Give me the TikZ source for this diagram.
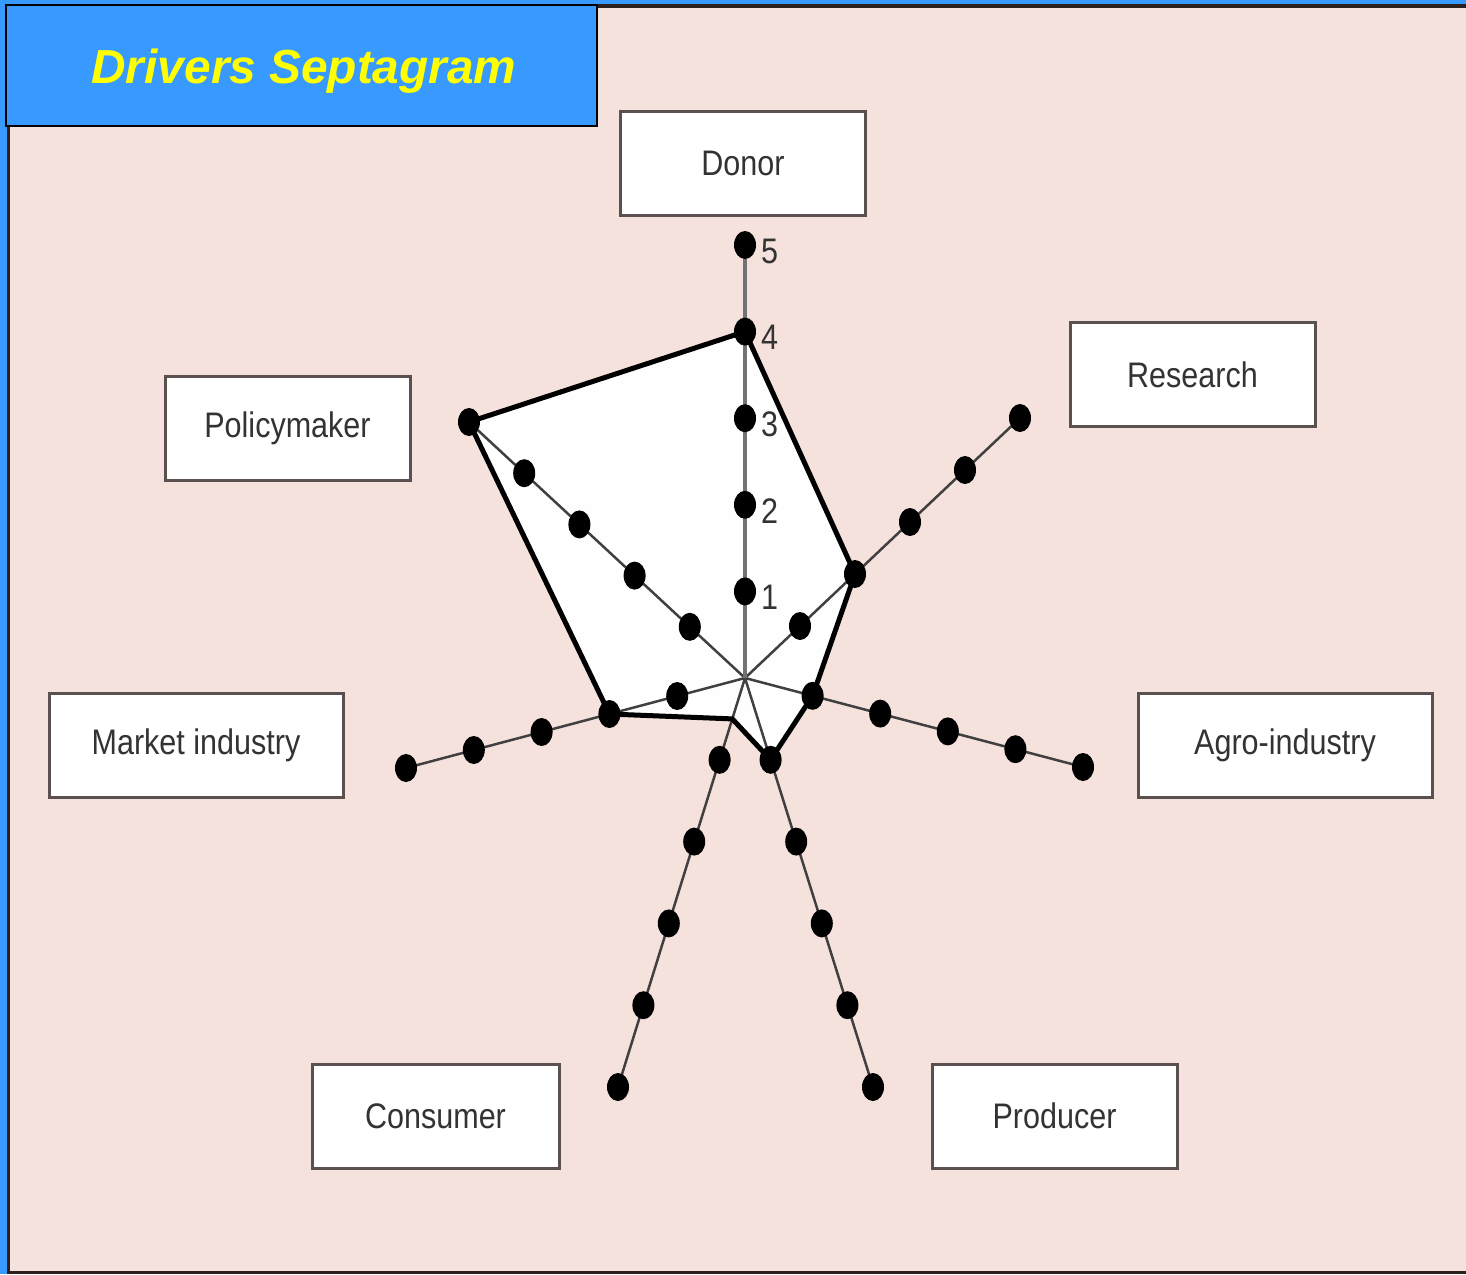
\documentclass[tikz,border=0pt]{standalone}
\usepackage{fontspec}
\usetikzlibrary{calc,shapes.geometric}
\newfontfamily\titlefont{Liberation Sans}
\newfontfamily\lblfont[FakeStretch=0.86]{Liberation Sans}
\definecolor{bgpink}{HTML}{F6E2DD}
\definecolor{barblue}{HTML}{3899FF}
\definecolor{edgedark}{HTML}{2A1F1C}
\definecolor{boxedge}{HTML}{5A5050}
\definecolor{txt}{HTML}{333333}
\definecolor{titleyellow}{HTML}{FFFF00}

\begin{document}
\begin{tikzpicture}[x=1pt,y=-1pt,
  labelbox/.style={draw=boxedge, line width=3pt, fill=white, minimum width=245pt,
    minimum height=104pt, inner sep=0pt, text=txt,
    font=\lblfont\fontsize{35.5}{40}\selectfont},
  dot/.style={ellipse, fill=black, minimum width=22pt, minimum height=28pt, inner sep=0pt},
  spoke/.style={draw=black!75, line width=2.5pt},
  mainspoke/.style={draw=black!55, line width=3.5pt},
  score/.style={draw=black, line width=5pt, line join=miter},
  tick/.style={font=\lblfont\fontsize{35.5}{40}\selectfont, text=txt, anchor=west, inner sep=0pt}]

\useasboundingbox (0,0) rectangle (1466,1274);

% page background and frame edges
\fill[bgpink] (0,0) rectangle (1466,1274);
\fill[barblue] (0,0) rectangle (7,1274);
\fill[barblue] (0,0) rectangle (1466,4);
\fill[edgedark] (7,4) rectangle (10,1274);
\fill[edgedark] (7,4) rectangle (1466,8);
\fill[edgedark] (7,1271) rectangle (1466,1274);

% title banner
\node[fill=barblue, draw=black, line width=2.5pt, minimum width=591pt, minimum height=121pt,
  inner sep=0pt] (title) at (301.5,65.5) {};
\node[anchor=base, inner sep=0pt, text=titleyellow,
  font=\titlefont\bfseries\itshape\fontsize{47.8}{52}\selectfont]
  (titletext) at (304,83) {Drivers Septagram};

% centre of the septagram and the tips of the seven axes (score 5)
\coordinate (C) at (745,678);
\coordinate (E-don) at (745,245);
\coordinate (E-res) at (1020,418);
\coordinate (E-agr) at (1083,767);
\coordinate (E-pro) at (873,1087);
\coordinate (E-con) at (618,1087);
\coordinate (E-mar) at (406,768);
\coordinate (E-pol) at (469,422);

% score positions 1..5 on every axis
\foreach \ax in {don,res,agr,pro,con,mar,pol}{
  \foreach \i [evaluate=\i as \f using \i/5] in {1,...,5}{
    \coordinate (\ax-\i) at ($(C)!\f!(E-\ax)$);
  }
}
\coordinate (con-half) at ($(C)!0.1!(E-con)$);

% scored area
\fill[white!98!bgpink] (don-4) -- (res-2) -- (agr-1) -- (pro-1) -- (con-half)
  -- (mar-2) -- (pol-5) -- cycle;

% axes
\foreach \ax in {res,agr,pro,con,mar,pol}{
  \draw[spoke] (C) -- (\ax-5);
}
\draw[mainspoke] (C) -- (don-5);

% outline of the scored area
\draw[score] (don-4) -- (res-2) -- (agr-1) -- (pro-1) -- (con-half)
  -- (mar-2) -- (pol-5) -- cycle;

% score markers
\foreach \ax in {don,res,agr,pro,con,mar,pol}{
  \foreach \i in {1,...,5}{
    \node[dot] (\ax-dot\i) at (\ax-\i) {};
  }
}

% scale numbers on the donor axis
\foreach \i in {1,...,5}{
  \node[tick] (num\i) at ($(don-\i)+(16,6)$) {\i};
}

% stakeholder boxes
\node[labelbox] (donor) at (743,163) {Donor};
\node[labelbox] (research) at (1192.5,374.5) {Research};
\node[labelbox] (policy) at (287.5,428) {Policymaker};
\node[labelbox, minimum width=294pt] (market) at (196,745) {Market industry};
\node[labelbox, minimum width=294pt] (agro) at (1285,745) {Agro-industry};
\node[labelbox, minimum width=247pt] (consumer) at (435.5,1116) {Consumer};
\node[labelbox] (producer) at (1054.5,1116) {Producer};

\end{tikzpicture}
\end{document}
